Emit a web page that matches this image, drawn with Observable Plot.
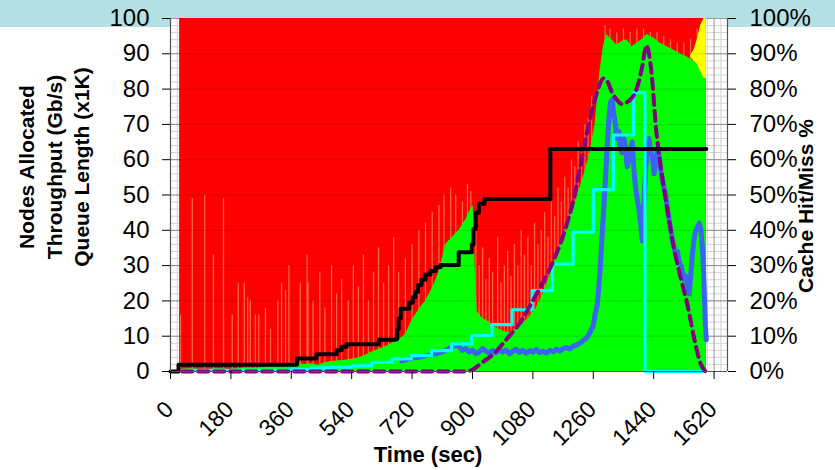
<!DOCTYPE html>
<html><head><meta charset="utf-8">
<script src="https://cdn.jsdelivr.net/npm/d3@7"></script>
<script src="https://cdn.jsdelivr.net/npm/@observablehq/plot@0.6"></script>
<style>
html,body{margin:0;padding:0;background:#fff;}
#wrap{position:relative;width:835px;height:470px;overflow:hidden;}
#band{position:absolute;left:0;top:0;width:835px;height:27px;background:#b4dfe3;}
#chart{position:absolute;left:0;top:0;}
</style></head><body>
<div id="wrap"><div id="band"></div><div id="chart"></div></div>
<script>
// ---- data (time in seconds) ----
const xTicks = [0,180,360,540,720,900,1080,1260,1440,1620];
const yTicks = [0,10,20,30,40,50,60,70,80,90,100];
const leftTitles = ["Nodes Allocated", "Throughput (Gb/s)", "Queue Length (x1K)"];

// Cache hit % (green area top)
const greenT = [27,60,100,140,180,220,260,300,340,370,400,420,440,460,480,500,520,540,560,580,600,620,640,660,680,700,710,720,740,760,780,800,810,820,840,860,880,895,902,908,914,930,950,970,990,1010,1030,1050,1070,1090,1110,1130,1150,1170,1190,1210,1230,1250,1265,1280,1290,1300,1315,1330,1345,1360,1375,1390,1405,1420,1440,1460,1480,1500,1520,1540,1560,1570,1580,1590,1597];
const greenV = [0.5,0.8,0.5,0.8,0.6,1,1,1.5,2,2.5,2,2.2,1.8,2.5,2.8,3,3.2,3.5,3.8,4.5,5.5,6.2,7,8,9,10.5,12.5,14.5,17.5,20,23.5,28,32,36,38,40,43,46,47,30,17,15,14,12.5,11.5,11,12,13.5,15.5,18,22,27,33,38,44,49,55,62,70,85,92,95.5,94,92.5,93.5,94,92,93,94,95.5,94.5,93,92,91,90,89,88,87,85,83,83];

// Other (yellow) band at the end
const yellowT  = [1550,1560,1570,1580,1590,1597];
const yellowLo = [89,88,87,85,83,83];
const yellowHi = [89.5,91,94,98,100,100];

// pale streaks in the miss area
const streakT   = [30,65,102,128,158,184,202,220,230,238,253,263,283,298,320,331,343,353,387,407,410,425,445,460,480,495,510,530,545,560,575,590,605,620,635,650,665,680,700,720,740,760,780,800,815,835,850,870,885,895,910,920,930,940,950,960,975,985,995,1005,1015,1025,1035,1045,1055,1065,1075,1085,1095,1105,1115,1125,1135,1145,1155,1165,1175,1185,1195,1205,1215,1225,1235,1245,1255,1295,1310,1330,1350,1370,1390,1410,1430,1450,1470,1490,1510,1530,1550,1570];
const streakTop = [16,49,50,33,49,16,25,25,21,20,16,16,18,12,20,25,23,30,25,33,25,20,28,18,30,22,26,20,30,24,33,20,28,35,25,30,38,28,32,36,40,42,45,47,50,52,50,48,53,51,40,30,35,26,32,28,38,25,30,34,27,36,30,40,33,38,30,42,36,40,45,38,48,44,52,48,55,52,60,58,65,62,70,72,78,98,97,96,97,96,97,97,96,96,95,94,93,93,94,97];

// Nodes allocated (black)
const blackT = [0,24,377,435,495,510,525,621,672,676,680,686,712,722,730,738,748,760,775,790,805,859,898,903,910,919,936,1132,1597];
const blackV = [0,1.9,3.7,4.9,6.0,7.0,7.7,9.0,9.2,12,15,17.8,19.5,21,22.5,24.5,26,27.5,28.5,29.5,30.2,33.8,36,40.4,45,47.5,48.9,63,63];

// Queue length x1K (cyan)
const cyanT = [30,360,420,480,540,600,660,718,778,838,898,958,1018,1078,1138,1200,1260,1320,1380,1414,1590];
const cyanV = [0.3,0.6,1.0,1.2,1.6,2.6,3.6,4.5,5.9,7.8,10.2,13.3,17.5,22.9,30.4,39.5,51.5,67,79,0,0];

// Throughput Gb/s (blue)
const blueT = [690,720,750,780,810,830,850,860,870,880,890,900,910,920,930,940,950,960,970,980,990,1000,1010,1020,1030,1040,1050,1060,1070,1080,1090,1100,1110,1120,1130,1140,1150,1160,1170,1180,1190,1200,1210,1220,1230,1240,1250,1260,1265,1272,1280,1286,1291,1296,1301,1306,1311,1316,1321,1326,1331,1336,1341,1346,1351,1356,1361,1366,1371,1376,1381,1386,1391,1396,1401,1406,1411,1416,1421,1426,1431,1436,1441,1446,1451,1456,1461,1466,1471,1476,1481,1486,1491,1496,1501,1506,1511,1516,1521,1526,1531,1536,1541,1546,1551,1556,1561,1566,1571,1576,1581,1586,1590,1594,1597];
const blueV = [3,3.8,4.2,4.8,5.5,6.5,7.5,7,6,6.5,5.5,6,5,5.5,6.5,5.8,5.2,6,5.3,6.2,5.5,6,5,5.8,6.3,5.4,6,5.2,5.9,5.5,6.2,5.3,5.8,5.2,6,5.6,6.3,5.8,6.5,6.8,6.4,7.2,7.5,8,8.8,9.5,11,13,16,19,28,38,46,54,63,71,76,77,73,70,66,68,63,62,66,64,58,60,63,65,57,52,49,46,42,37,48,57,63,66,62,61,56,59,63,61,57,54,52,50,46,43,40,37,35,33,34,31,30,28,26,27,24,22,28,34,38,40,41,42,40,34,25,13,9];

// Cache hit/miss % (purple dashed)
const purpleT = [35,880,900,924,963,1003,1043,1083,1113,1142,1182,1202,1217,1242,1262,1276,1290,1300,1316,1330,1345,1361,1375,1386,1398,1406,1413,1418,1424,1430,1438,1445,1460,1480,1500,1520,1540,1560,1580,1595];
const purpleV = [0,0,0.5,2.2,5,9.3,14,20.6,25.8,31.5,42,49,56,68,76,80.5,83,82.5,79,77,75.8,76.3,77.5,79.2,83,86.5,90.5,92.4,91,87.5,80,71,58.8,46.5,35.2,26.7,19.2,9.7,2.2,0];

// ---- build tables ----
const zip = (T, V) => T.map((t, i) => ({t, v: V[i]}));
const green = zip(greenT, greenV);
const yellow = yellowT.map((t, i) => ({t, lo: yellowLo[i], hi: yellowHi[i]}));
const streaks = streakT.map((t, i) => ({t, top: streakTop[i]}));
const redSpan = [{t: greenT[0]}, {t: greenT[greenT.length - 1]}];
const black = zip(blackT, blackV);
const cyan = zip(cyanT, cyanV);
const blue = zip(blueT, blueV);
const purple = zip(purpleT, purpleV);

const minorY = d3.range(0, 101, 2).filter(d => d % 10 !== 0);
const minorX = d3.range(0, 1661, 20).filter(d => d % 180 !== 0);
const FONT = "'Liberation Sans', Arial, sans-serif";

const chart = Plot.plot({
  width: 835, height: 470,
  marginLeft: 170, marginRight: 108, marginTop: 18, marginBottom: 99,
  style: {background: "transparent", fontFamily: FONT, color: "#000", overflow: "visible"},
  x: {domain: [0, 1660]},
  y: {domain: [0, 100]},
  marks: [
    Plot.frame({fill: "white", stroke: null}),
    Plot.ruleY(minorY, {stroke: "#d4d4d4"}),
    Plot.ruleX(minorX, {stroke: "#d4d4d4"}),
    Plot.ruleY(yTicks, {stroke: "#9a9a9a"}),
    Plot.ruleX(xTicks, {stroke: "#9a9a9a"}),
    Plot.areaY(redSpan, {x: "t", y1: 0, y2: 100, fill: "#ff0000"}),
    Plot.ruleX(streaks, {x: "t", y1: 0, y2: "top", stroke: "#f2b478", strokeOpacity: 0.55, strokeWidth: 1.3}),
    Plot.areaY(green, {x: "t", y1: 0, y2: "v", fill: "#00ff00"}),
    Plot.areaY(yellow, {x: "t", y1: "lo", y2: "hi", fill: "#ffff00"}),
    Plot.ruleY(yTicks.slice(1, -1), {stroke: "#000", strokeOpacity: 0.13}),
    Plot.line(blue, {x: "t", y: "v", stroke: "#3a64f2", strokeWidth: 5}),
    Plot.line(cyan, {x: "t", y: "v", curve: "step-after", stroke: "#00ffff", strokeWidth: 3.2}),
    Plot.line(purple, {x: "t", y: "v", curve: "monotone-x", stroke: "#800080", strokeWidth: 4, strokeDasharray: "10,6"}),
    Plot.line(black, {x: "t", y: "v", curve: "step-after", stroke: "#000", strokeWidth: 4}),
    Plot.ruleX([0], {stroke: "#555", strokeWidth: 1.2}),
    Plot.ruleX([1660], {stroke: "#555", strokeWidth: 1.2}),
    Plot.ruleY([0], {stroke: "#555", strokeWidth: 1.2}),
    Plot.axisY({anchor: "left", ticks: yTicks, tickSize: 8, tickPadding: 13, fontSize: 24, label: null, tickFormat: d => String(d)}),
    Plot.axisY({anchor: "right", ticks: yTicks, tickSize: 8, tickPadding: 14, fontSize: 24, label: null, tickFormat: d => d + "%"}),
    Plot.axisX({ticks: xTicks, tickSize: 8, label: null, tickFormat: () => ""}),
    Plot.text(xTicks, {x: d => d, y: 0, text: d => String(d), rotate: -45, textAnchor: "end", lineAnchor: "middle", dx: -1, dy: 34, fontSize: 23}),
    Plot.text([leftTitles[0]], {text: d => d, frameAnchor: "left", textAnchor: "middle", dx: -143, dy: -28, rotate: -90, fontSize: 21, fontWeight: "bold"}),
    Plot.text([leftTitles[1]], {text: d => d, frameAnchor: "left", textAnchor: "middle", dx: -115, dy: -28, rotate: -90, fontSize: 21, fontWeight: "bold"}),
    Plot.text([leftTitles[2]], {text: d => d, frameAnchor: "left", textAnchor: "middle", dx: -88, dy: -28, rotate: -90, fontSize: 21, fontWeight: "bold"}),
    Plot.text(["Cache Hit/Miss %"], {text: d => d, frameAnchor: "right", textAnchor: "middle", dx: 79, dy: 11, rotate: -90, fontSize: 21, fontWeight: "bold"}),
    Plot.text(["Time (sec)"], {text: d => d, frameAnchor: "bottom", dx: -21, dy: 90, fontSize: 22, fontWeight: "bold"})
  ]
});
document.getElementById("chart").appendChild(chart);
</script></body></html>
